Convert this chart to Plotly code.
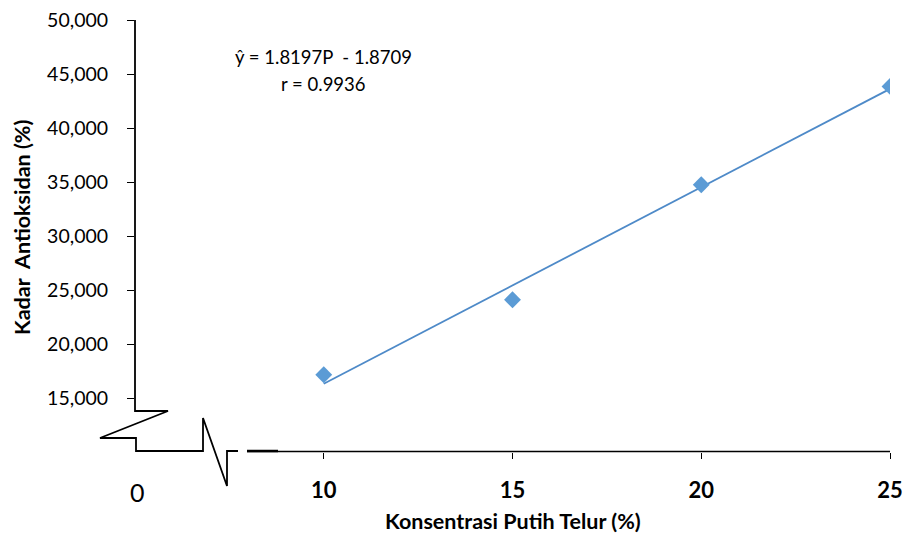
import plotly.graph_objects as go

# Data: egg-white concentration vs antioxidant content
konsentrasi = [10, 15, 20, 25]
kadar = [17.15, 24.1, 34.75, 43.85]
y_ticks = [15, 20, 25, 30, 35, 40, 45, 50]
x_ticks = [10, 15, 20, 25]
slope, intercept = 1.8197, -1.8709
r_value = 0.9936

FONT = "Lato"
BLUE = "#5B9BD5"
LINE_BLUE = "#4E8AC8"

W, H = 909, 536
L, R, T, B = 135, 890, 20, 452


def px(x, y):
    """Pixel position -> paper coordinates."""
    return (x - L) / (R - L), (B - y) / (B - T)


def path(points):
    parts = []
    for i, (x, y) in enumerate(points):
        u, v = px(x, y)
        parts.append(("M" if i == 0 else "L") + f"{u:.5f},{v:.5f}")
    return " ".join(parts)


fig = go.Figure()

trend_x = [konsentrasi[0], konsentrasi[-1]]
trend_y = [slope * x + intercept for x in trend_x]
fig.add_trace(go.Scatter(x=trend_x, y=trend_y, mode="lines",
                         line=dict(color=LINE_BLUE, width=1.8), hoverinfo="skip"))
fig.add_trace(go.Scatter(x=konsentrasi, y=kadar, mode="markers",
                         marker=dict(symbol="diamond", size=13, color=BLUE)))

ytext = [f"{v:.3f}".replace(".", ",") for v in y_ticks]

fig.update_layout(
    width=W, height=H,
    margin=dict(l=L, r=W - R, t=T, b=H - B, autoexpand=False),
    paper_bgcolor="white", plot_bgcolor="white",
    showlegend=False,
    xaxis=dict(range=[5, 25], tickvals=x_ticks, ticktext=[f"<b>{v}</b>" for v in x_ticks],
               showgrid=False, zeroline=False, showline=False, automargin=False,
               ticks="outside", ticklen=6, tickwidth=1.3, tickcolor="black",
               tickfont=dict(family=FONT, size=22, color="black"),
               ticklabelstandoff=13),
    yaxis=dict(range=[10, 50], tickvals=y_ticks, ticktext=ytext,
               showgrid=False, zeroline=False, showline=False, automargin=False,
               ticks="outside", ticklen=7, tickwidth=1.3, tickcolor="black",
               tickfont=dict(family=FONT, size=19.5, color="black"),
               ticklabelstandoff=15),
)

# Axes with break marks
axis_path = path([(135, 20), (135, 411), (168, 411), (100, 438), (136, 438),
                  (136, 451), (203, 451), (203, 418), (227, 486), (227, 451),
                  (238, 451)])
fig.add_shape(type="path", path=axis_path, xref="paper", yref="paper",
              line=dict(color="black", width=1.8))
main_axis = path([(247, 451.5), (890, 451.5)])
fig.add_shape(type="path", path=main_axis, xref="paper", yref="paper",
              line=dict(color="black", width=1.4))
seg = path([(247, 451), (278, 451)])
fig.add_shape(type="path", path=seg, xref="paper", yref="paper",
              line=dict(color="black", width=2.5))

ann = [
    dict(text="0", x=137, y=492, size=25),
    dict(text="<b>Konsentrasi Putih Telur (%)</b>", x=513, y=521, size=21.5),
    dict(text="ŷ = 1.8197P  - 1.8709", x=323, y=57, size=18.5),
    dict(text=f"r = {r_value}", x=323, y=84, size=18.5),
]
for a in ann:
    u, v = px(a["x"], a["y"])
    fig.add_annotation(text=a["text"], x=u, y=v, xref="paper", yref="paper",
                       showarrow=False, xanchor="center", yanchor="middle",
                       font=dict(family=FONT, size=a["size"], color="black"))

u, v = px(22, 228)
fig.add_annotation(text="<b>Kadar  Antioksidan (%)</b>", x=u, y=v, xref="paper", yref="paper",
                   showarrow=False, textangle=-90, xanchor="center", yanchor="middle",
                   font=dict(family=FONT, size=21.5, color="black"))

fig.write_html("out.html")
